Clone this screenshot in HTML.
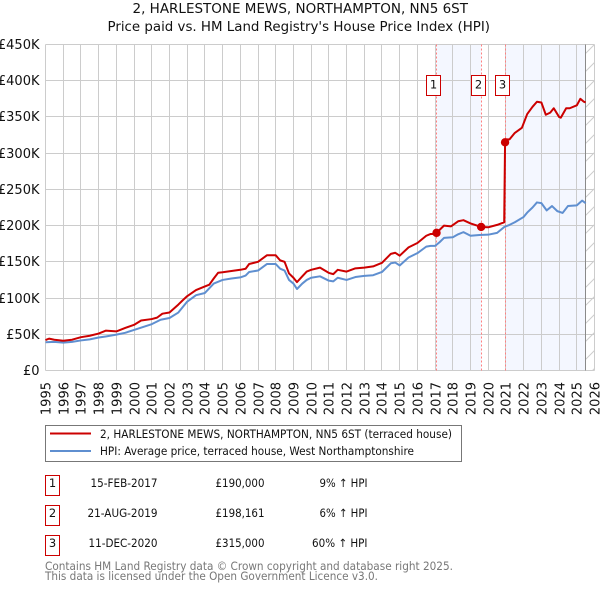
<!DOCTYPE html>
<html lang="en">
<head>
<meta charset="utf-8">
<title>2, HARLESTONE MEWS, NORTHAMPTON, NN5 6ST</title>
<style>
html,body{margin:0;padding:0;background:#fff;width:600px;height:590px;overflow:hidden}
svg{display:block;font-family:"DejaVu Sans","Liberation Sans",sans-serif}
</style>
</head>
<body>
<svg id="chart" xmlns="http://www.w3.org/2000/svg" width="600" height="590" viewBox="0 0 600 590">
  <defs>
    <clipPath id="plot-clip"><rect x="45" y="44" width="550" height="327"/></clipPath>
  </defs>
  <text x="132.5" y="13" font-size="13" fill="#111" textLength="335.5" lengthAdjust="spacingAndGlyphs">2, HARLESTONE MEWS, NORTHAMPTON, NN5 6ST</text>
  <text x="107.5" y="31" font-size="13" fill="#111" textLength="382.5" lengthAdjust="spacingAndGlyphs">Price paid vs. HM Land Registry's House Price Index (HPI)</text>
  <g id="shade"></g>
  <g id="grid"></g>
  <g id="hatch" clip-path="url(#plot-clip)"></g>
  <g id="ylabels"></g>
  <g id="xlabels"></g>
  <g id="vlines"></g>
  <g id="series" clip-path="url(#plot-clip)"></g>
  <g id="sales"></g>

  <g>
    <rect x="45.5" y="425.5" width="416" height="36" fill="#fff" stroke="#777" stroke-width="1"/>
    <line x1="50" x2="91" y1="433.5" y2="433.5" stroke="#cc0000" stroke-width="2"/>
    <text x="100" y="438" font-size="11.5" fill="#111" textLength="352" lengthAdjust="spacingAndGlyphs">2, HARLESTONE MEWS, NORTHAMPTON, NN5 6ST (terraced house)</text>
    <line x1="50" x2="91" y1="451" y2="451" stroke="#5f8fd0" stroke-width="2"/>
    <text x="100" y="455" font-size="11.5" fill="#111" textLength="314" lengthAdjust="spacingAndGlyphs">HPI: Average price, terraced house, West Northamptonshire</text>
  </g>

  <g font-size="11.5" fill="#111">
    <g>
      <rect x="45.5" y="475.5" width="14" height="20" fill="#fff" stroke="#cc0000"/>
      <text x="52.5" y="487" text-anchor="middle">1</text>
      <text x="90.5" y="487" textLength="67" lengthAdjust="spacingAndGlyphs">15-FEB-2017</text>
      <text x="215.5" y="487" textLength="49" lengthAdjust="spacingAndGlyphs">£190,000</text>
      <text x="319.5" y="487" textLength="48" lengthAdjust="spacingAndGlyphs">9% ↑ HPI</text>
    </g>
    <g>
      <rect x="45.5" y="505.5" width="14" height="20" fill="#fff" stroke="#cc0000"/>
      <text x="52.5" y="517" text-anchor="middle">2</text>
      <text x="87.5" y="517" textLength="70" lengthAdjust="spacingAndGlyphs">21-AUG-2019</text>
      <text x="215.5" y="517" textLength="49" lengthAdjust="spacingAndGlyphs">£198,161</text>
      <text x="319.5" y="517" textLength="48" lengthAdjust="spacingAndGlyphs">6% ↑ HPI</text>
    </g>
    <g>
      <rect x="45.5" y="535.5" width="14" height="20" fill="#fff" stroke="#cc0000"/>
      <text x="52.5" y="547" text-anchor="middle">3</text>
      <text x="88.5" y="547" textLength="69" lengthAdjust="spacingAndGlyphs">11-DEC-2020</text>
      <text x="215.5" y="547" textLength="49" lengthAdjust="spacingAndGlyphs">£315,000</text>
      <text x="312" y="547" textLength="55.5" lengthAdjust="spacingAndGlyphs">60% ↑ HPI</text>
    </g>
  </g>

  <text x="45" y="570" font-size="11.5" fill="#777" textLength="408" lengthAdjust="spacingAndGlyphs">Contains HM Land Registry data © Crown copyright and database right 2025.</text>
  <text x="45" y="580" font-size="11.5" fill="#777" textLength="333" lengthAdjust="spacingAndGlyphs">This data is licensed under the Open Government Licence v3.0.</text>
</svg>

<script>
const xTickYears = [1995,1996,1997,1998,1999,2000,2001,2002,2003,2004,2005,2006,2007,2008,2009,2010,2011,2012,2013,2014,2015,2016,2017,2018,2019,2020,2021,2022,2023,2024,2025,2026];
const yTickValues = [0,50,100,150,200,250,300,350,400,450];
const yTickLabels = ['£0','£50K','£100K','£150K','£200K','£250K','£300K','£350K','£400K','£450K'];

const hpiDates = [1995,1995.5,1996,1996.5,1997,1997.5,1998,1998.4,1999,1999.5,2000,2000.5,2001,2001.5,2002,2002.5,2003,2003.5,2004,2004.5,2005,2005.5,2006,2006.3,2006.5,2007,2007.5,2008,2008.25,2008.5,2008.75,2009,2009.2,2009.5,2009.75,2010,2010.5,2011,2011.25,2011.5,2012,2012.5,2013,2013.5,2014,2014.5,2014.75,2015,2015.5,2016,2016.5,2016.75,2017,2017.25,2017.5,2018,2018.3,2018.6,2019,2019.5,2020,2020.5,2020.9,2021.2,2021.5,2022,2022.2,2022.5,2022.75,2023,2023.3,2023.6,2023.9,2024.2,2024.5,2025,2025.3,2025.5];
const hpiValues = [39,39.5,38.5,39.5,41.5,43,45.5,47,49.5,52,56,60,64,70,72.5,80,95,104,107,120,125,127,128.5,131,136,138,147,147,140.5,138,125,120,112.5,120,125,128,130,124,123,128,125,129,130.6,131.5,136,148,149,145,156,162,171,172,172,177,183,184,188,191,186,187,187.5,190,198,201,204.6,212,218,225,232,231,221,227,220,217.5,227,228,234.5,231];

const priceDates = [1995,1995.2,1995.5,1996,1996.5,1997,1997.5,1998,1998.4,1999,1999.5,2000,2000.4,2001,2001.3,2001.6,2002,2002.5,2002.75,2003,2003.5,2004,2004.25,2004.5,2004.75,2005,2005.5,2006,2006.3,2006.5,2007,2007.5,2008,2008.25,2008.5,2008.75,2009,2009.2,2009.5,2009.75,2010,2010.5,2011,2011.25,2011.5,2012,2012.5,2013,2013.5,2014,2014.5,2014.75,2015,2015.5,2016,2016.5,2016.75,2017,2017.08,2017.5,2017.9,2018.3,2018.6,2019,2019.6,2020,2020.5,2020.9,2020.95,2021,2021.2,2021.5,2021.9,2022.2,2022.5,2022.75,2023,2023.25,2023.5,2023.7,2024,2024.1,2024.4,2024.6,2025,2025.2,2025.4,2025.5];
const priceValues = [42,44,42.5,41,42.5,46,48,51,55,54,58.7,63,69,71,73,78.4,80,91,97,102.6,111,116,118.5,127,135,135.6,137.4,139,140.5,147,150,159,159,152,150,134,128,122,130,136.5,139,142,134.7,133,139,136.5,141,142,143.7,148.6,161,162.5,158.5,170,176,186,188.5,188.5,190,200,199,206,207.5,203,198.161,197.7,201,204.6,315,319,319,328,335,354,364,371,370,353,356,362,350,349,362,362,366,375,371,370];

const saleDates = [2017.08,2019.6,2020.95];
const salePrices = [190,198.161,315];
const saleLabels = ['1','2','3'];

const xLeft = 45.5, xRight = 594.5, yBottom = 370.5, yTop = 44.5;
const dataEnd = 2025.5;
const NS = 'http://www.w3.org/2000/svg';
const xScale = function (year) { return xLeft + (year - xTickYears[0]) * (xRight - xLeft) / (xTickYears[xTickYears.length - 1] - xTickYears[0]); };
const yScale = function (v) { return yBottom - v * (yBottom - yTop) / yTickValues[yTickValues.length - 1]; };
const crisp = function (p) { return Math.floor(p) + 0.5; };
const mk = function (tag, parent, attrs) {
  const el = document.createElementNS(NS, tag);
  for (const k in attrs) el.setAttribute(k, attrs[k]);
  parent.appendChild(el);
  return el;
};
const linePath = function (xs, ys) {
  return xs.map(function (d, i) { return (i ? 'L' : 'M') + xScale(d).toFixed(2) + ' ' + yScale(ys[i]).toFixed(2); }).join('');
};

const shadeG = document.getElementById('shade');
const shadeSpans = [[saleDates[0], saleDates[1]], [saleDates[2], dataEnd]];
shadeSpans.forEach(function (s) {
  const r = mk('rect', shadeG, { x: xScale(s[0]), y: yTop, width: xScale(s[1]) - xScale(s[0]), height: yBottom - yTop, fill: '#f4f7ff' });
  
  
});

const gridG = document.getElementById('grid');
xTickYears.forEach(function (yr) {
  const l = mk('line', gridG, { x1: crisp(xScale(yr)), x2: crisp(xScale(yr)), y1: yTop, y2: yBottom, stroke: '#cccccc', 'stroke-width': 1 });
  
  
});
yTickValues.forEach(function (v) {
  const l = mk('line', gridG, { x1: xLeft, x2: xRight, y1: crisp(yScale(v)), y2: crisp(yScale(v)), stroke: '#cccccc', 'stroke-width': 1 });
  
  
});

const hatchG = document.getElementById('hatch');
const hatchStart = crisp(xScale(dataEnd));
for (let yy = yTop; yy < yBottom + 18; yy += 18) {
  const l = mk('line', hatchG, { x1: hatchStart, y1: yy + 9, x2: xRight, y2: yy, stroke: '#cccccc', 'stroke-width': 1 });
  
  
}
const endLine = mk('line', hatchG, { x1: hatchStart, x2: hatchStart, y1: yTop, y2: yBottom, stroke: '#8a8a8a', 'stroke-width': 1 });



const yLabelG = document.getElementById('ylabels');
yTickValues.forEach(function (v, i) {
  const t = mk('text', yLabelG, { x: 39.5, y: crisp(yScale(v)) + 4.5, 'text-anchor': 'end', 'font-size': 13, fill: '#111' });
  
  
  t.textContent = yTickLabels[i];
});

const xLabelG = document.getElementById('xlabels');
xTickYears.forEach(function (yr) {
  const px = crisp(xScale(yr));
  const t = mk('text', xLabelG, { x: 0, y: 0, transform: 'translate(' + (px + 5) + ',382) rotate(-90)', 'text-anchor': 'end', 'font-size': 13, fill: '#111' });
  
  
  t.textContent = String(yr);
});

const vlineG = document.getElementById('vlines');
saleDates.forEach(function (d) {
  const l = mk('line', vlineG, { x1: crisp(xScale(d)), x2: crisp(xScale(d)), y1: yTop, y2: yBottom, stroke: '#ff8080', 'stroke-width': 1, 'stroke-dasharray': '2 2' });
  
  
});

const seriesG = document.getElementById('series');
const hpiLine = mk('path', seriesG, { d: linePath(hpiDates, hpiValues), fill: 'none', stroke: '#5f8fd0', 'stroke-width': 2, 'stroke-linejoin': 'round' });


const priceLine = mk('path', seriesG, { d: linePath(priceDates, priceValues), fill: 'none', stroke: '#cc0000', 'stroke-width': 2, 'stroke-linejoin': 'round' });



const salesG = document.getElementById('sales');
saleDates.forEach(function (d, i) {
  const c = mk('circle', salesG, { cx: xScale(d), cy: yScale(salePrices[i]), r: 4.2, fill: '#cc0000' });
  
  
  const bx = Math.floor(xScale(d)) - 9.5;
  const b = mk('rect', salesG, { x: bx, y: 75.5, width: 14, height: 20, fill: '#fff', stroke: '#cc0000', 'stroke-width': 1 });
  
  
  const t = mk('text', salesG, { x: bx + 7, y: 88.5, 'text-anchor': 'middle', 'font-size': 11.5, fill: '#111' });
  
  
  t.textContent = saleLabels[i];
});
</script>
</body>
</html>
